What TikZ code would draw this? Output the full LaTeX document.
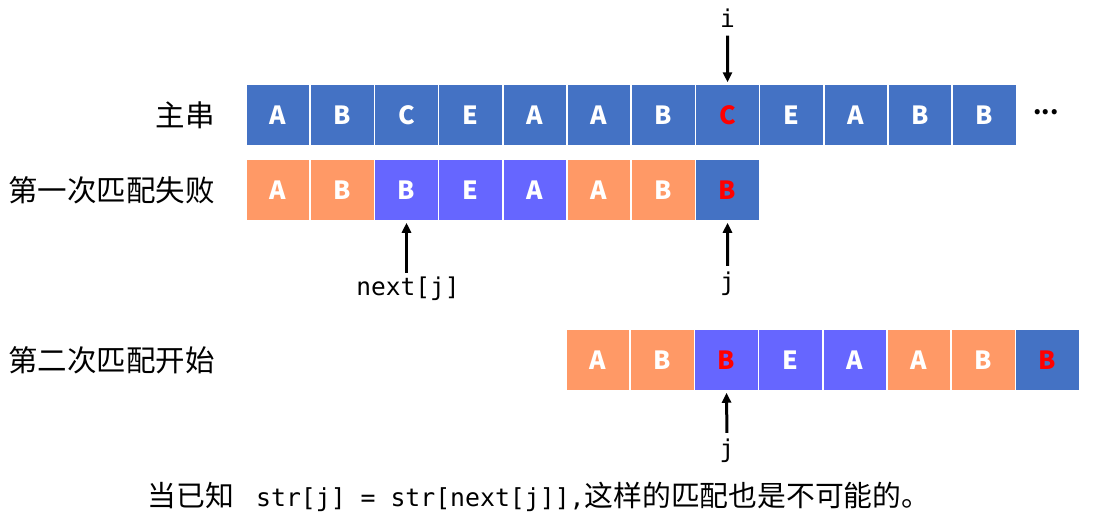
\documentclass[tikz,border=0pt]{standalone}
\usepackage{fontspec}
\setmainfont{Noto Sans CJK SC}
\setmonofont{DejaVu Sans Mono}
\usetikzlibrary{arrows.meta}
\definecolor{mainblue}{HTML}{4472C4}
\definecolor{matchorange}{HTML}{FF9966}
\definecolor{prefixpurple}{HTML}{6666FF}
\definecolor{failred}{HTML}{FF0000}
\tikzset{
	cell/.style={minimum width=64.2pt,minimum height=62pt,inner sep=0pt,draw=white,line width=1.5pt,font=\bfseries\fontsize{25}{25}\selectfont},
	rowname/.style={anchor=east,inner sep=0pt,font=\fontsize{29.5}{31}\selectfont},
	ptrname/.style={inner sep=0pt,font=\ttfamily\fontsize{24.5}{26}\selectfont},
	ptr/.style={-{Triangle[length=10pt,width=9pt]},line width=3pt}
}
\begin{document}
\begin{tikzpicture}[x=1pt,y=-1pt]
			\useasboundingbox (0,0) rectangle (1093,520);
			% main string
			\node[rowname] (mainname) at (215,115) {主串};
			\foreach \c/\t [count=\k] in {A/white,B/white,C/white,E/white,A/white,A/white,B/white,C/failred,E/white,A/white,B/white,B/white}
				\node[cell,fill=mainblue,text=\t] (m\k) at ({278.1+64.2*(\k-1)},115) {\c};
			\node[inner sep=0pt,font=\bfseries\fontsize{24}{24}\selectfont] (more) at (1046,112) {...};
			% first attempt
			\node[rowname] (firstname) at (215,190) {第一次匹配失败};
			\foreach \c/\f/\t [count=\k] in {A/matchorange/white,B/matchorange/white,B/prefixpurple/white,E/prefixpurple/white,A/prefixpurple/white,A/matchorange/white,B/matchorange/white,B/mainblue/failred}
				\node[cell,fill=\f,text=\t] (a\k) at ({278.1+64.2*(\k-1)},190) {\c};
			% second attempt
			\node[rowname] (secondname) at (215,360) {第二次匹配开始};
			\foreach \c/\f/\t [count=\k] in {A/matchorange/white,B/matchorange/white,B/prefixpurple/failred,E/prefixpurple/white,A/prefixpurple/white,A/matchorange/white,B/matchorange/white,B/mainblue/failred}
				\node[cell,fill=\f,text=\t] (b\k) at ({598.1+64.2*(\k-1)},360) {\c};
			% pointers
			\node[ptrname] (i) at (727.5,18) {i};
			\draw[ptr,shorten <=8pt,shorten >=1pt] (i.south) -- (m8.north);
			\node[ptrname] (j1) at (727.5,284) {j};
			\draw[ptr,shorten <=6pt,shorten >=1pt] (j1.north) -- (a8.south);
			\node[ptrname] (nextj) at (408,289) {next[j]};
			\draw[ptr,shorten <=4pt,shorten >=1pt] (nextj.north -| a3.south) -- (a3.south);
			\node[ptrname] (j2) at (727,451) {j};
			\draw[ptr,shorten <=6pt,shorten >=1pt] (j2.north) -- (b3.south);
			% note
			\node[inner sep=0pt,font=\fontsize{28.8}{30}\selectfont] (note) at (539,497) {当已知\hspace{22pt}{\ttfamily\fontsize{24.8}{26}\selectfont str[j] = str[next[j]],}这样的匹配也是不可能的。};
		\end{tikzpicture}
\end{document}
